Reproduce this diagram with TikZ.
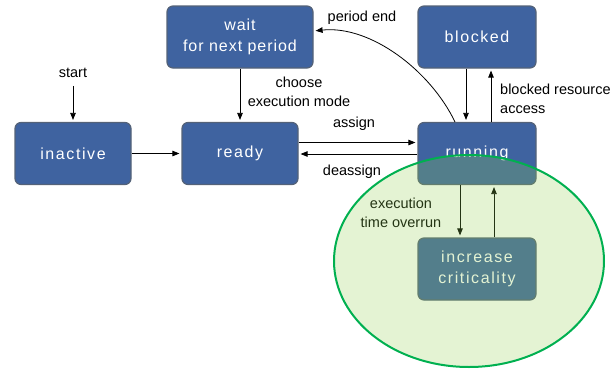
\documentclass[tikz,border=0pt]{standalone}
\usepackage{fontspec}
\setmainfont{Liberation Sans}
\newfontfamily\boxfont[LetterSpace=10]{Liberation Sans}
\newfontfamily\waitfont[LetterSpace=6]{Liberation Sans}
\usetikzlibrary{arrows.meta,shapes.geometric}
\definecolor{boxblue}{RGB}{63,99,160}
\definecolor{boxedge}{RGB}{84,98,120}
\definecolor{ellfill}{RGB}{146,208,80}
\definecolor{elledge}{RGB}{0,176,80}
\begin{document}
\begin{tikzpicture}[x=1pt,y=-1pt,
  state/.style={draw=boxedge, line width=1.2pt, fill=boxblue, rounded corners=6pt,
    text=white, font=\boxfont\fontsize{16}{21}\selectfont, align=center,
    minimum width=118pt, minimum height=62pt, inner sep=0pt},
  lbl/.style={font=\fontsize{14.5}{19}\selectfont, align=center, inner sep=0pt},
  arr/.style={-{Triangle[length=7pt,width=5.5pt]}, line width=0.8pt, shorten >=2pt}]
\useasboundingbox (0,0) rectangle (614,370);
\node[state, minimum width=146pt, font=\waitfont\fontsize{16}{21}\selectfont] (wait) at (240,37) {wait\\for next period};
\node[state] (blocked) at (477,37) {blocked};
\node[state, minimum width=116pt] (inactive) at (73,153.5) {inactive};
\node[state, minimum width=116pt] (ready) at (240,153.5) {ready};
\node[state] (running) at (477,153.5) {running};
\node[state] (crit) at (477,269) {increase\\criticality};
\node[lbl] (start) at (73,73) {start};
\node[lbl] (lchoose) at (299,92) {choose\\execution mode};
\node[lbl] (lassign) at (354,124) {assign};
\node[lbl] (ldeassign) at (352,172) {deassign};
\node[lbl, align=left, anchor=west] (lblocked) at (500,99) {blocked resource\\access};
\node[lbl] (lperiod) at (362,18) {period end};
\node[lbl] (lover) at (401,212.5) {execution\\time overrun};
\draw[arr] ([yshift=-8pt]start.south) -- (inactive.north);
\draw[arr] (inactive.east) -- (ready.west);
\draw[arr] (wait.south) -- (ready.north);
\draw[arr] ([yshift=11pt]ready.east) -- ([yshift=11pt]running.west);
\draw[arr] ([yshift=-0.5pt]running.west) -- ([yshift=-0.5pt]ready.east);
\draw[arr] ([xshift=-11pt]blocked.south) -- ([xshift=-11pt]running.north);
\draw[arr] ([xshift=14pt]running.north) -- ([xshift=14pt]blocked.south);
\draw[arr] ([xshift=-22pt]running.north) .. controls (430,70) and (370,25) .. ([yshift=6pt]wait.east);
\draw[arr] ([xshift=-17pt]running.south) -- ([xshift=-17pt]crit.north);
\draw[arr] ([xshift=17pt]crit.north) -- ([xshift=17pt]running.south);
\node[draw=elledge, line width=2pt, fill=ellfill, fill opacity=0.25, ellipse,
  minimum width=270pt, minimum height=212pt, inner sep=0pt] (zone) at (469,261) {};
\end{tikzpicture}
\end{document}
